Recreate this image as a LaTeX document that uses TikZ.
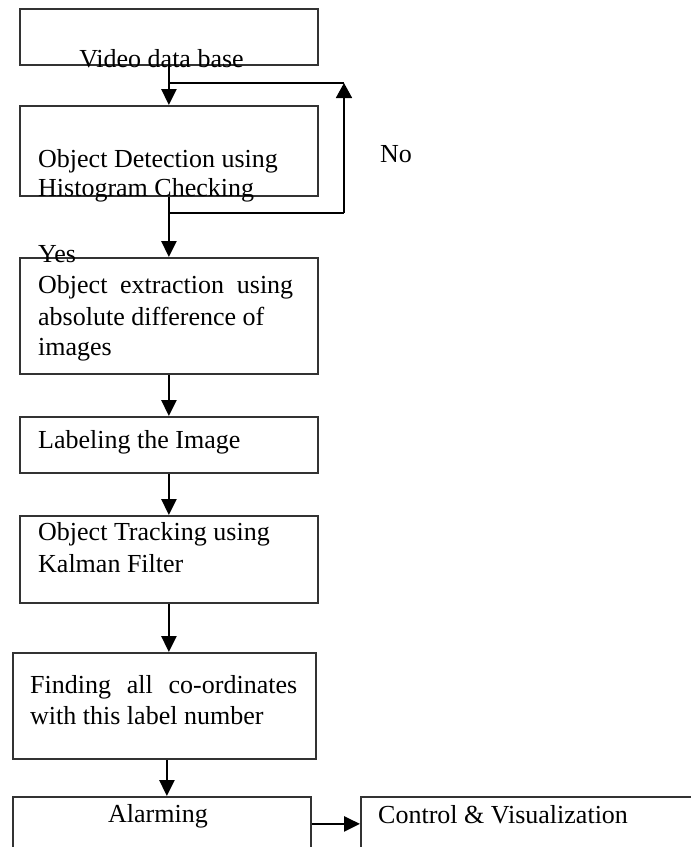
\documentclass[tikz,border=0pt]{standalone}
\usepackage{fontspec}
\setmainfont{Liberation Serif}
\usetikzlibrary{arrows.meta}
\begin{document}
\begin{tikzpicture}[x=1pt,y=-1pt,
  box/.style={draw=black!80, line width=1.8pt, anchor=north west, inner sep=0pt},
  flow/.style={line width=2.6pt, -{Triangle[width=15pt,length=16pt]}},
  loopline/.style={line width=1.8pt},
  loophead/.style={line width=1.8pt, -{Triangle[width=16pt,length=15pt]}},
  txt/.style={anchor=base west, inner sep=0pt, font=\fontsize{26}{31}\selectfont},
  ctxt/.style={anchor=base, inner sep=0pt, font=\fontsize{26}{31}\selectfont},
]
\useasboundingbox (0,0) rectangle (691,847);
\clip (0,0) rectangle (691,847);

% process boxes
\node[box, minimum width=298pt, minimum height=56pt]  (b1) at (19,8)    {};
\node[box, minimum width=298pt, minimum height=90pt]  (b2) at (19,105)  {};
\node[box, minimum width=298pt, minimum height=116pt] (b3) at (19,257)  {};
\node[box, minimum width=298pt, minimum height=56pt]  (b4) at (19,416)  {};
\node[box, minimum width=298pt, minimum height=87pt]  (b5) at (19,515)  {};
\node[box, minimum width=303pt, minimum height=106pt] (b6) at (12,652)  {};
\node[box, minimum width=298pt, minimum height=70pt]  (b7) at (12,796)  {};
\node[box, minimum width=340pt, minimum height=70pt]  (b8) at (360,796) {};

% box texts
\node[ctxt] (t1) at (161.5,67) {Video data base};
\node[txt] (t2a) at (38,167) {Object Detection using};
\node[txt] (t2b) at (38,196) {Histogram Checking};
\node[txt] (t3a) at (38,293) {\makebox[255pt][s]{Object extraction using}};
\node[txt] (t3b) at (38,325) {absolute difference of};
\node[txt] (t3c) at (38,355) {images};
\node[txt] (t4)  at (38,448) {Labeling the Image};
\node[txt] (t5a) at (38,540) {Object Tracking using};
\node[txt] (t5b) at (38,572) {Kalman Filter};
\node[txt] (t6a) at (30,693) {\makebox[267pt][s]{Finding all co-ordinates}};
\node[txt] (t6b) at (30,724) {with this label number};
\node[ctxt] (t7) at (158,822) {Alarming};
\node[txt] (t8) at (378,823) {Control \& Visualization};

% decision labels
\node[txt] (yes) at (38,262) {Yes};
\node[txt] (no)  at (380,162) {No};

% main flow
\draw[flow] (b1.south) -- (b2.north);
\draw[flow] (b2.south) -- (b3.north);
\draw[flow] (b3.south) -- (b4.north);
\draw[flow] (b4.south) -- (b5.north);
\draw[flow] (b5.south) -- ([xshift=4.5pt]b6.north);
\draw[flow] ([xshift=2.5pt]b6.south) -- ([xshift=5pt]b7.north);
\draw[flow] ([yshift=8pt]b7.east) -- ([yshift=8pt]b8.west);

% "No" feedback loop
\coordinate (fb) at (344,213);
\coordinate (ft) at (344,83);
\draw[loopline] (b2.south |- fb) -- (fb);
\draw[loophead] (fb) -- (ft);
\draw[loopline] (ft) -- (b1.south |- ft);
\end{tikzpicture}
\end{document}
